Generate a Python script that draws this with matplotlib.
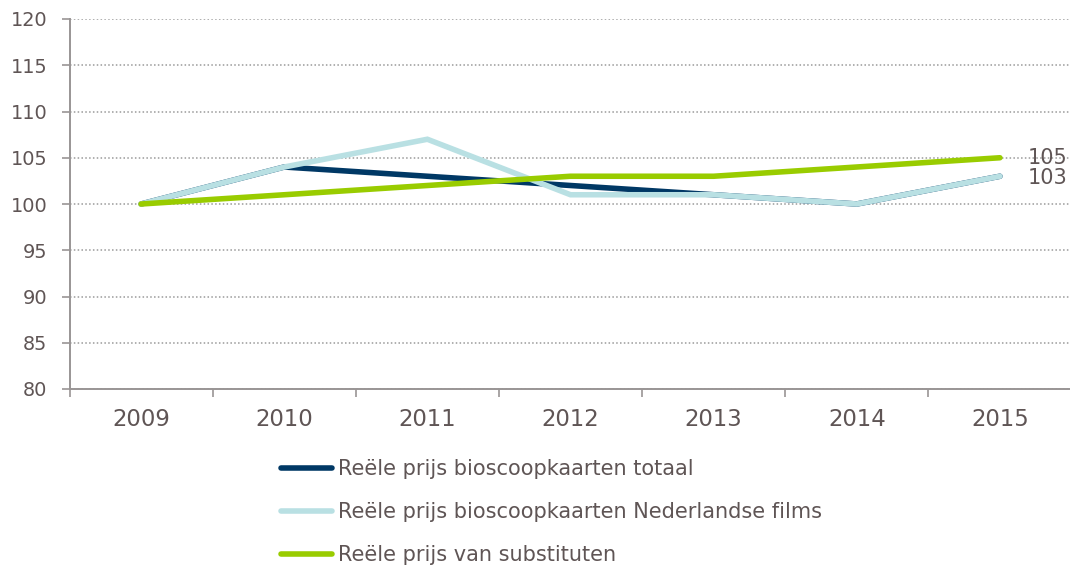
import matplotlib
matplotlib.use("Agg")
import matplotlib.pyplot as plt
import numpy as np

years = ["2009", "2010", "2011", "2012", "2013", "2014", "2015"]
totaal = [100, 104, 103, 102, 101, 100, 103]
nl_films = [100, 104, 107, 101, 101, 100, 103]
substituten = [100, 101, 102, 103, 103, 104, 105]
labels = ["Reële prijs bioscoopkaarten totaal",
          "Reële prijs bioscoopkaarten Nederlandse films",
          "Reële prijs van substituten"]
colors = ["#003865", "#b9e0e3", "#99cc00"]
text_color = "#5f5555"

plt.rcParams['font.family'] = ['DejaVu Sans']
fig = plt.figure(figsize=(10.7, 5.66), dpi=100)
ax = fig.add_axes([69.5/1070, 1-389/566, (1071.5-69.5)/1070, (389-19)/566])

x = np.arange(len(years))
lines = []
for ys, c, lab in zip([totaal, nl_films, substituten], colors, labels):
    l, = ax.plot(x, ys, color=c, lw=4.0, label=lab, solid_capstyle='round', solid_joinstyle='miter')
    lines.append(l)

ax.set_xlim(-0.5, 6.5)
ax.set_ylim(80, 120)
ax.set_yticks(np.arange(80, 121, 5))
ax.set_xticks(x)
ax.set_xticklabels(years)
ax.set_xticks(np.arange(-0.5, 6.6, 1), minor=True)
ax.tick_params(axis='x', which='major', length=0, pad=13.5, labelsize=16.4, labelcolor=text_color)
ax.tick_params(axis='x', which='minor', length=6, color='#999595', width=1.2)
ax.tick_params(axis='y', length=6, color='#999595', width=1.2, labelsize=13.9, labelcolor=text_color, pad=10)
ax.yaxis.grid(True, linestyle=(0, (1, 1.5)), color='#9a9a9a', lw=1.1)
ax.set_axisbelow(True)
for s in ['top', 'right']:
    ax.spines[s].set_visible(False)
for s in ['left', 'bottom']:
    ax.spines[s].set_color('#999595')
    ax.spines[s].set_linewidth(1.4)

ax.annotate(str(substituten[-1]), (6, substituten[-1]), xytext=(20, 0), textcoords='offset points',
            va='center', ha='left', fontsize=15, color=text_color)
ax.annotate(str(nl_films[-1]), (6, nl_films[-1]), xytext=(20, -1.5), textcoords='offset points',
            va='center', ha='left', fontsize=15, color=text_color)

leg = fig.legend(handles=lines, loc='upper left', bbox_to_anchor=(281/1070, 1-459/566),
                 frameon=False, fontsize=15, handlelength=2.45, handletextpad=0.3,
                 labelspacing=1.1, borderaxespad=0, borderpad=0)
for t in leg.get_texts():
    t.set_color(text_color)

fig.savefig("out.png", dpi=100)
